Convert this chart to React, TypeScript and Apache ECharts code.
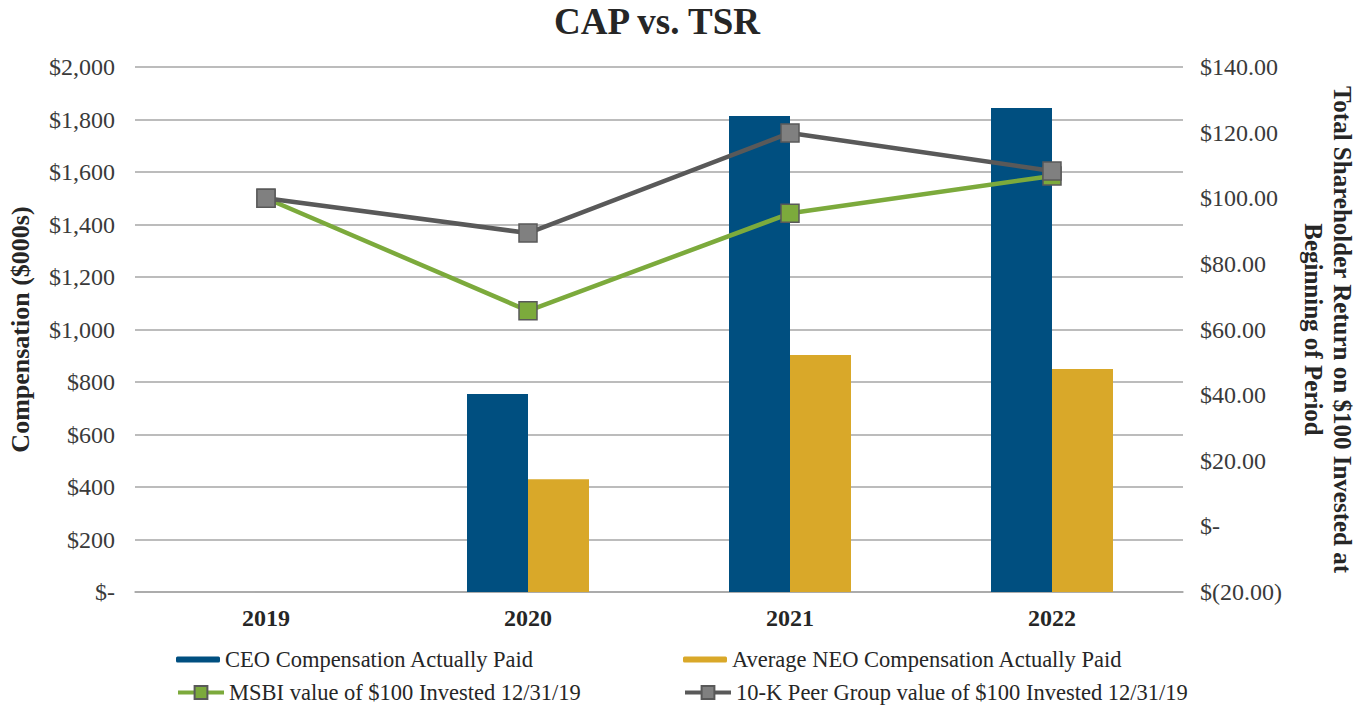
import React, { useEffect, useRef } from "react";
import * as echarts from "echarts";

const years = ["2019", "2020", "2021", "2022"];
const ceoCap = [null, 754, 1813, 1844];
const neoCap = [null, 430, 903, 850];
const msbiTsr = [100, 65.7, 95.4, 106.8];
const peerTsr = [100, 89.4, 119.9, 108.3];

const FONT = "'Liberation Serif', 'Times New Roman', serif";

function fmtLeft(v: number) {
  if (v === 0) return "$-";
  return "$" + v.toLocaleString("en-US");
}
function fmtRight(v: number) {
  if (v === 0) return "$-";
  if (v < 0) return "$(" + Math.abs(v).toFixed(2) + ")";
  return "$" + v.toFixed(2);
}

export default function App() {
  const ref = useRef<HTMLDivElement>(null);
  useEffect(() => {
    if (!ref.current) return;
    const chart = echarts.init(ref.current, null, { renderer: "svg" });
    const legendText = { fontFamily: FONT, fontSize: 22.5, color: "#262626" };
    const barLegend = { itemWidth: 44, itemHeight: 6, itemGap: 4, padding: 0, textStyle: legendText };
    const lineLegend = { itemWidth: 46, itemHeight: 16, itemGap: 4, padding: 0, textStyle: legendText, lineStyle: { width: 4 } };
    chart.setOption({
      animation: false,
      backgroundColor: "#ffffff",
      title: {
        text: "CAP vs. TSR",
        left: 549,
        top: -2,
        textStyle: { fontFamily: FONT, fontSize: 37, fontWeight: "bold", color: "#262626" },
      },
      grid: { left: 135, right: 172, top: 67, bottom: 119, outerBoundsMode: "none", containLabel: false },
      legend: [
        { data: ["CEO Compensation Actually Paid"], left: 176, top: 648, ...barLegend },
        { data: ["Average NEO Compensation Actually Paid"], left: 683, top: 648, ...barLegend },
        { data: ["MSBI value of $100 Invested 12/31/19"], left: 176, top: 681, ...lineLegend },
        { data: ["10-K Peer Group value of $100 Invested 12/31/19"], left: 683, top: 681, ...lineLegend },
      ],
      xAxis: {
        type: "category",
        data: years,
        axisTick: { show: false },
        axisLine: { show: true, lineStyle: { color: "#A6A6A6", width: 1.5 } },
        axisLabel: { fontFamily: FONT, fontSize: 24, fontWeight: "bold", color: "#262626", margin: 14 },
      },
      yAxis: [
        {
          type: "value",
          min: 0,
          max: 2000,
          interval: 200,
          name: "Compensation ($000s)",
          nameLocation: "middle",
          nameRotate: 90,
          nameGap: 102,
          nameTextStyle: { fontFamily: FONT, fontSize: 26, fontWeight: "bold", color: "#262626" },
          axisLine: { show: false },
          axisTick: { show: false },
          axisLabel: { fontFamily: FONT, fontSize: 24, color: "#3A3A3A", margin: 20, formatter: fmtLeft },
          splitLine: { show: true, lineStyle: { color: "#A6A6A6", width: 1.5 } },
        },
        {
          type: "value",
          min: -20,
          max: 140,
          interval: 20,
          position: "right",
          name: "Total Shareholder Return on $100 Invested at\nBeginning of Period",
          nameLocation: "middle",
          nameRotate: -90,
          nameGap: 116,
          nameTextStyle: { fontFamily: FONT, fontSize: 25, fontWeight: "bold", color: "#262626", lineHeight: 29 },
          axisLine: { show: false },
          axisTick: { show: false },
          axisLabel: { fontFamily: FONT, fontSize: 24, color: "#3A3A3A", margin: 17, formatter: fmtRight },
          splitLine: { show: false },
        },
      ],
      series: [
        {
          name: "CEO Compensation Actually Paid",
          type: "bar",
          data: ceoCap,
          barWidth: 61,
          barGap: "0%",
          itemStyle: { color: "#004F80" },
        },
        {
          name: "Average NEO Compensation Actually Paid",
          type: "bar",
          data: neoCap,
          barWidth: 61,
          barGap: "0%",
          itemStyle: { color: "#D9A829" },
        },
        {
          name: "MSBI value of $100 Invested 12/31/19",
          type: "line",
          yAxisIndex: 1,
          data: msbiTsr,
          symbol: "rect",
          symbolSize: 18,
          lineStyle: { color: "#7CAA3C", width: 4.5 },
          itemStyle: { color: "#7CAA3C", borderColor: "#595959", borderWidth: 1.5 },
          z: 3,
        },
        {
          name: "10-K Peer Group value of $100 Invested 12/31/19",
          type: "line",
          yAxisIndex: 1,
          data: peerTsr,
          symbol: "rect",
          symbolSize: 18,
          lineStyle: { color: "#595959", width: 4.5 },
          itemStyle: { color: "#808080", borderColor: "#595959", borderWidth: 1.5 },
          z: 4,
        },
      ],
    });
    return () => chart.dispose();
  }, []);
  return (
    <div
      ref={ref}
      style={{ position: "absolute", left: 0, top: 0, width: 1355, height: 711, background: "#fff" }}
    />
  );
}
